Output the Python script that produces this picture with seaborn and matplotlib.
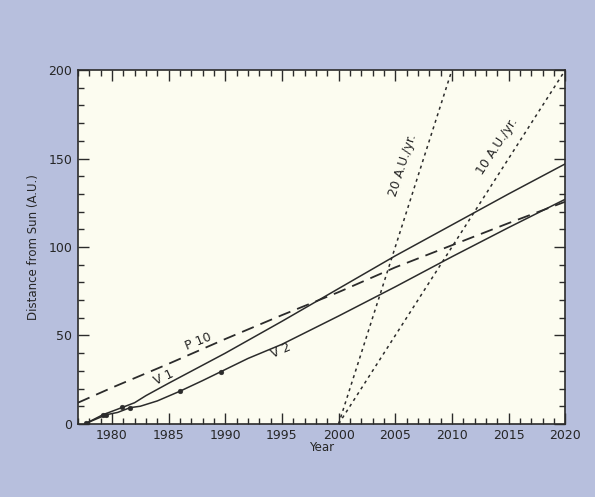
import matplotlib
matplotlib.use('Agg')
import matplotlib.pyplot as plt
import pandas as pd
import seaborn as sns

# traiettorie (anno, distanza dal Sole in A.U.)
v1_years = [1977.7, 1979.2, 1980.9, 1982.0, 1983.0, 1985.0, 1990.0, 1995.0, 2000.0, 2005.0, 2010.0, 2015.0, 2020.0]
v1_dist = [0.3, 5.2, 9.3, 12.0, 16.0, 23.0, 40.0, 58.0, 76.5, 95.0, 112.5, 130.0, 147.0]

v2_years = [1977.7, 1979.5, 1980.5, 1981.6, 1982.5, 1984.0, 1986.0, 1988.0, 1989.6, 1992.0, 1995.0, 2000.0, 2005.0, 2010.0, 2015.0, 2020.0]
v2_dist = [0.3, 5.2, 6.5, 9.2, 10.0, 13.0, 18.5, 24.5, 29.5, 37.0, 45.0, 61.0, 77.5, 94.5, 111.0, 127.0]

p10_years = [1977.0, 1980.0, 1985.0, 1990.0, 1995.0, 2000.0, 2005.0, 2010.0, 2015.0, 2020.0]
p10_dist = [12.0, 20.5, 34.0, 48.0, 61.5, 74.5, 88.5, 101.0, 113.5, 125.6]

# punti degli incontri planetari
v1_enc_years = [1977.7, 1979.2, 1980.9]
v1_enc_dist = [0.3, 5.2, 9.3]
v2_enc_years = [1979.5, 1981.6, 1986.0, 1989.6]
v2_enc_dist = [5.2, 9.2, 18.5, 29.5]

# rette di riferimento 20 e 10 A.U./yr
au20_years = [2000.0, 2010.0]
au20_dist = [0.0, 200.0]
au10_years = [2000.0, 2020.0]
au10_dist = [0.0, 200.0]

sns.set_style('ticks')
plt.rcParams['font.family'] = ['DejaVu Sans']

fig = plt.figure(figsize=(5.95, 4.97), dpi=100)
fig.patch.set_facecolor('#b7bfdd')
ax = fig.add_axes([0.131, 0.147, 0.819, 0.712])
ax.set_facecolor('#fcfcf0')

line_col = '#2b2b2b'
sns.lineplot(x=v1_years, y=v1_dist, ax=ax, color=line_col, linewidth=1.1, sort=False)
sns.lineplot(x=v2_years, y=v2_dist, ax=ax, color=line_col, linewidth=1.1, sort=False)
sns.lineplot(x=p10_years, y=p10_dist, ax=ax, color=line_col, linewidth=1.3, sort=False,
             linestyle=(0, (7, 4)))
sns.lineplot(x=au20_years, y=au20_dist, ax=ax, color=line_col, linewidth=1.1, sort=False,
             linestyle=(0, (2, 2.5)))
sns.lineplot(x=au10_years, y=au10_dist, ax=ax, color=line_col, linewidth=1.1, sort=False,
             linestyle=(0, (2, 2.5)))
sns.scatterplot(x=v1_enc_years, y=v1_enc_dist, ax=ax, color=line_col, s=12, edgecolor=line_col, zorder=3)
sns.scatterplot(x=v2_enc_years, y=v2_enc_dist, ax=ax, color=line_col, s=12, edgecolor=line_col, zorder=3)

ax.set_xlim(1977, 2020)
ax.set_ylim(0, 200)
ax.set_xticks(range(1980, 2021, 5))
ax.set_xticks(range(1977, 2021), minor=True)
ax.set_yticks(range(0, 201, 50))
ax.set_yticks(range(0, 201, 10), minor=True)
ax.tick_params(which='both', direction='in', top=True, right=True, color=line_col, width=1.0)
ax.tick_params(which='major', length=8, labelsize=9, pad=4, labelcolor='#262626')
ax.tick_params(which='minor', length=4)
for s in ax.spines.values():
    s.set_color(line_col)
    s.set_linewidth(1.2)

ax.set_xlabel('Year', fontsize=8.5, color='#262626', labelpad=-1)
ax.set_ylabel('Distance from Sun (A.U.)', fontsize=8.5, color='#262626', labelpad=6)

# etichette delle curve
txt = dict(fontsize=9, color='#262626', ha='center', va='center')
ax.text(1987.6, 46.5, 'P 10', rotation=22, **txt)
ax.text(1984.6, 26.0, 'V 1', rotation=25, **txt)
ax.text(1994.9, 41.5, 'V 2', rotation=24, **txt)
ax.text(2005.7, 146.0, '20 A.U./yr.', rotation=72, **txt)
ax.text(2014.0, 157.0, '10 A.U./yr.', rotation=57, **txt)

fig.savefig('out.png', dpi=100, facecolor=fig.get_facecolor())
